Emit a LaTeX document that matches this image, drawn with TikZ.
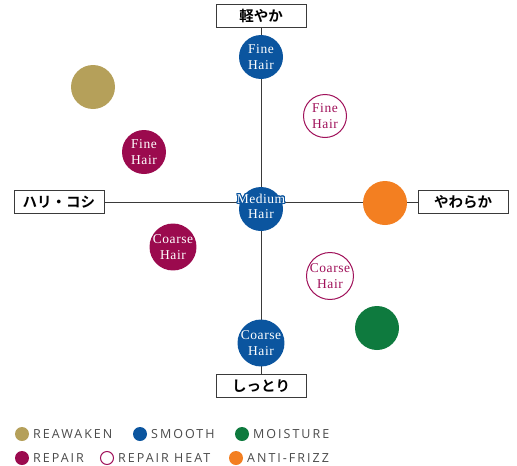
\documentclass[tikz,border=0pt]{standalone}
\usepackage{fontspec}
\usepackage[copies]{contour}
\contourlength{1pt}
\contournumber{16}
\setmainfont{Liberation Serif}[LetterSpace=4]
\setsansfont{Open Sans}[LetterSpace=16]
\newfontfamily\jpfont{Noto Sans CJK JP}[BoldFont={* Bold}]
\definecolor{cgold}{HTML}{B5A05A}
\definecolor{cblue}{HTML}{0B559F}
\definecolor{cgreen}{HTML}{0E7A3E}
\definecolor{crepair}{HTML}{9B0A4E}
\definecolor{cheat}{HTML}{A0115A}
\definecolor{corange}{HTML}{F37F21}
\definecolor{caxis}{HTML}{3A3A3A}
\definecolor{clegend}{HTML}{4A4A4A}
\begin{document}
\begin{tikzpicture}[x=1pt,y=-1pt,
  axisbox/.style={draw=caxis,line width=0.9pt,fill=white,minimum width=90pt,minimum height=23pt,inner sep=0pt,font=\jpfont\bfseries\fontsize{14.5}{14.5}\selectfont},
  hfont/.style={font=\fontsize{13.5}{15.5}\selectfont},
  dot/.style={circle,minimum size=44pt,inner sep=0pt,align=center,text=white,hfont},
  ring/.style={circle,minimum size=43pt,inner sep=0pt,align=center,draw=cheat,line width=1pt,fill=white,text=cheat,hfont},
  axisline/.style={draw=caxis,line width=0.9pt},
  ldot/.style={circle,minimum size=14pt,inner sep=0pt},
  ltext/.style={anchor=west,text=clegend,inner sep=0pt,font=\sffamily\fontsize{12.5}{12.5}\selectfont}]
\useasboundingbox (0,0) rectangle (517,466);
% axis boxes
\node[axisbox] (top) at (261,16) {軽やか};
\node[axisbox] (bottom) at (261,386) {しっとり};
\node[axisbox] (left) at (59,202) {ハリ・コシ};
\node[axisbox] (right) at (463,202) {やわらか};
\draw[axisline] (top.south) -- (bottom.north);
\draw[axisline] (left.east) -- (right.west);
% circles
\node[dot,fill=cgold] (rewak) at (93,87) {};
\node[dot,fill=cblue] (sfine) at (261,57) {Fine\\Hair};
\node[dot,fill=crepair] (rfine) at (144,152) {Fine\\Hair};
\node[ring] (hfine) at (325,116) {Fine\\Hair};
\node[dot,fill=cblue] (smed) at (261,209) {};
\node[text=white,align=center,hfont] (smedt) at (261,207) {\contour{cblue}{Medium}\\\contour{cblue}{Hair}};
\node[dot,fill=corange] (afr) at (385,203) {};
\node[dot,fill=crepair] (rcoarse) at (173,247) {Coarse\\Hair};
\node[ring] (hcoarse) at (330,276) {Coarse\\Hair};
\node[dot,fill=cgreen] (moist) at (377,328) {};
\node[dot,fill=cblue] (scoarse) at (261,343) {Coarse\\Hair};
% legend
\node[ldot,fill=cgold] (l1) at (22,434) {};
\node[ltext] (l1t) at (33,434) {REAWAKEN};
\node[ldot,fill=cblue] (l2) at (140,434) {};
\node[ltext] (l2t) at (151,434) {SMOOTH};
\node[ldot,fill=cgreen] (l3) at (242,434) {};
\node[ltext] (l3t) at (253,434) {MOISTURE};
\node[ldot,fill=crepair] (l4) at (22,458) {};
\node[ltext] (l4t) at (33,458) {REPAIR};
\node[ldot,draw=cheat,line width=1pt,fill=white,minimum size=13pt] (l5) at (107,458) {};
\node[ltext] (l5t) at (118,458) {REPAIR HEAT};
\node[ldot,fill=corange] (l6) at (236,458) {};
\node[ltext] (l6t) at (247,458) {ANTI-FRIZZ};
\end{tikzpicture}
\end{document}
